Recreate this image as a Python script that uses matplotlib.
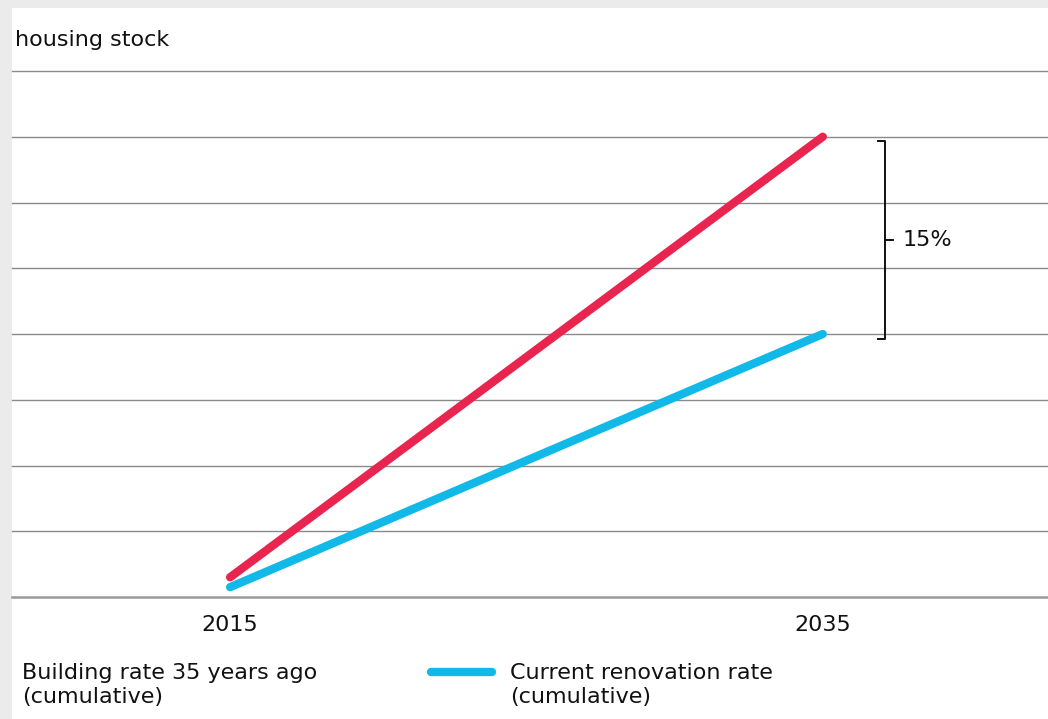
import matplotlib.pyplot as plt
from matplotlib.patches import Rectangle
from matplotlib.lines import Line2D

# ── data ─────────────────────────────────────────────
years = [2015, 2035]
building_rate = [0.30, 7.0]      # building rate 35 years ago (cumulative)
renovation_rate = [0.15, 4.0]    # current renovation rate (cumulative)
grid_levels = list(range(0, 9))
gap_label = "15%"

RED = "#E8244F"
BLUE = "#10B9E8"
GRID = "#8a8a8a"
FS = 16

W, H = 1048, 719
fig = plt.figure(figsize=(W / 100, H / 100), dpi=100)
fig.patch.set_facecolor("#EBEBEB")
fig.patches.append(Rectangle((12 / W, 0), 1 - 12 / W, (H - 8) / H,
                             transform=fig.transFigure, facecolor="white",
                             edgecolor="none", zorder=-5))

ax = fig.add_axes([12 / W, (H - 597) / H, (W - 12) / W, 526 / H])
ax.set_facecolor("none")
ax.set_xlim(2007.64, 2042.6)
ax.set_ylim(0, 8)

# horizontal gridlines
for lv in grid_levels:
    lw = 1.8 if lv == 0 else 1.0
    ax.axhline(lv, color=GRID if lv else "#999999", lw=lw, zorder=1, clip_on=False)

ax.plot(years, building_rate, color=RED, lw=6, solid_capstyle="round", zorder=3)
ax.plot(years, renovation_rate, color=BLUE, lw=6, solid_capstyle="round", zorder=3)

# bracket showing the gap
bx = 2037.1
y_top, y_bot = 6.94, 3.92
y_mid = (y_top + y_bot) / 2
ax.plot([bx - 0.25, bx, bx, bx - 0.25], [y_top, y_top, y_bot, y_bot],
        color="#111111", lw=1.4, zorder=4)
ax.plot([bx, bx + 0.27], [y_mid, y_mid], color="#111111", lw=1.4, zorder=4)
ax.text(bx + 0.6, y_mid, gap_label, fontsize=FS, va="center", ha="left",
        color="#111111")

for s in ax.spines.values():
    s.set_visible(False)
ax.set_yticks([])
ax.set_xticks(years)
ax.set_xticklabels([str(y) for y in years], fontsize=FS, color="#111111")
ax.tick_params(axis="x", length=0, pad=13)

fig.text(15 / W, 1 - 40 / H, "housing stock", fontsize=FS, va="center",
         ha="left", color="#111111")

# legend (manual)
fig.text(22 / W, 1 - 685 / H, "Building rate 35 years ago\n(cumulative)",
         fontsize=FS, va="center", ha="left", color="#111111", linespacing=1.2)
fig.lines.append(Line2D([431 / W, 492 / W], [1 - 672 / H, 1 - 672 / H],
                        transform=fig.transFigure, color=BLUE, lw=6,
                        solid_capstyle="round"))
fig.text(510 / W, 1 - 685 / H, "Current renovation rate\n(cumulative)",
         fontsize=FS, va="center", ha="left", color="#111111", linespacing=1.2)

plt.savefig("out.png", dpi=100, facecolor=fig.get_facecolor())
